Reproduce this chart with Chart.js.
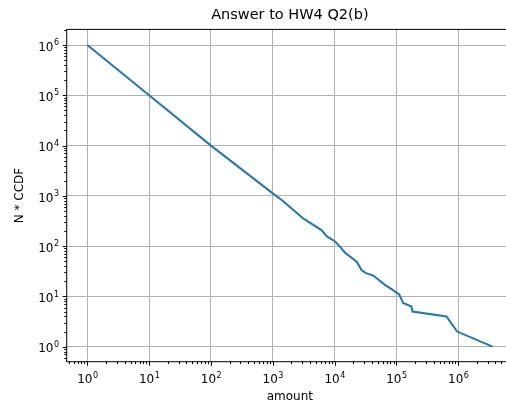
<!DOCTYPE html>
<html>
<head>
<meta charset="utf-8">
<script src="https://cdn.jsdelivr.net/npm/chart.js@4/dist/chart.umd.min.js"></script>
<style>
  html, body { margin: 0; padding: 0; background: #fff; overflow: hidden; }
  #wrap { width: 514px; height: 404px; overflow: hidden; }
</style>
</head>
<body>
<div id="wrap"><canvas id="chart" width="514" height="404"></canvas></div>
<script>
// values (log-log)
const amounts = [1, 10, 100, 1000, 1410, 2180, 3150, 6200, 7500, 10200, 12300, 14800, 22800, 27500, 32200, 42300, 65200, 83500, 111000, 128500, 175000, 182000, 646000, 960000, 3600000];
const nCcdf = [1000000, 100000, 10000, 1120, 819, 517, 352, 206, 156, 124, 97, 74, 49, 33, 29, 26, 17, 14, 11, 7.4, 6.3, 5, 4, 2, 1];

const xRange = [0.464, 7.7e6];
const yRange = [0.503, 2.05e6];

const isDecade = v => Math.abs(Math.log10(v) - Math.round(Math.log10(v))) < 1e-9;

function logTicks(scale) {
  const ticks = [];
  const lo = Math.floor(Math.log10(scale.min));
  const hi = Math.ceil(Math.log10(scale.max));
  for (let n = lo; n <= hi; n++) {
    for (let k = 1; k <= 9; k++) {
      const v = k * Math.pow(10, n);
      if (v >= scale.min && v <= scale.max) ticks.push({ value: v });
    }
  }
  scale.ticks = ticks;
}

const font = { family: 'DejaVu Sans', size: 12 };

// spines, tick marks and 10^n labels drawn matplotlib-style from the scales
const frame = {
  id: 'frame',
  afterDraw(chart) {
    const { ctx, chartArea: a, scales: { x, y } } = chart;
    ctx.save();
    ctx.strokeStyle = '#000';
    ctx.lineWidth = 1;
    ctx.beginPath();
    x.ticks.forEach(t => {
      const px = Math.round(x.getPixelForValue(t.value)) + 0.5;
      ctx.moveTo(px, a.bottom);
      ctx.lineTo(px, a.bottom + (isDecade(t.value) ? 4 : 2.4));
    });
    y.ticks.forEach(t => {
      const py = Math.round(y.getPixelForValue(t.value)) + 0.5;
      ctx.moveTo(a.left, py);
      ctx.lineTo(a.left - (isDecade(t.value) ? 4 : 2.4), py);
    });
    ctx.stroke();
    ctx.strokeRect(a.left, a.top, a.right - a.left, a.bottom - a.top);

    ctx.fillStyle = '#000';
    ctx.textBaseline = 'alphabetic';
    ctx.textAlign = 'left';
    const big = '12px "DejaVu Sans"', small = '8px "DejaVu Sans"';
    const label = (v, cx, baseY, align) => {
      const exp = String(Math.round(Math.log10(v)));
      ctx.font = big;
      const w1 = ctx.measureText('10').width;
      ctx.font = small;
      const w2 = ctx.measureText(exp).width;
      const left = align === 'center' ? cx - (w1 + w2) / 2 : cx - (w1 + w2);
      ctx.font = big;
      ctx.fillText('10', left, baseY);
      ctx.font = small;
      ctx.fillText(exp, left + w1 + 0.5, baseY - 5.6);
    };
    x.ticks.forEach(t => {
      if (isDecade(t.value)) label(t.value, x.getPixelForValue(t.value), a.bottom + 21.6, 'center');
    });
    y.ticks.forEach(t => {
      if (isDecade(t.value)) label(t.value, a.left - 8.2, y.getPixelForValue(t.value) + 5.7, 'right');
    });
    ctx.restore();
  }
};

Chart.defaults.color = '#000';
Chart.defaults.font.family = 'DejaVu Sans';

new Chart(document.getElementById('chart'), {
  type: 'line',
  data: {
    datasets: [{
      data: amounts.map((a, i) => ({ x: a, y: nCcdf[i] })),
      borderColor: '#1f77b4',
      borderWidth: 2,
      pointRadius: 0,
      tension: 0,
      fill: false
    }]
  },
  options: {
    responsive: false,
    animation: false,
    devicePixelRatio: 1,
    layout: { padding: { left: 0, right: 1, top: 0, bottom: 0 } },
    plugins: {
      legend: { display: false },
      tooltip: { enabled: false },
      title: {
        display: true,
        text: 'Answer to HW4 Q2(b)',
        fullSize: false,
        color: '#000',
        font: { family: 'DejaVu Sans', size: 14.5, weight: 'normal' },
        padding: { top: 7, bottom: 5 }
      }
    },
    scales: {
      x: {
        type: 'logarithmic',
        min: xRange[0],
        max: xRange[1],
        afterBuildTicks: logTicks,
        afterFit: s => { s.height = 42.3; },
        border: { display: false },
        grid: {
          drawTicks: false,
          lineWidth: 1,
          color: c => c.tick && isDecade(c.tick.value) ? '#b0b0b0' : 'rgba(0,0,0,0)'
        },
        ticks: { display: false, autoSkip: false },
        title: { display: true, text: 'amount', font, color: '#000', padding: { top: 0, bottom: 0 } }
      },
      y: {
        type: 'logarithmic',
        min: yRange[0],
        max: yRange[1],
        afterBuildTicks: logTicks,
        afterFit: s => { s.width = 66.7; },
        border: { display: false },
        grid: {
          drawTicks: false,
          lineWidth: 1,
          color: c => c.tick && isDecade(c.tick.value) ? '#b0b0b0' : 'rgba(0,0,0,0)'
        },
        ticks: { display: false, autoSkip: false },
        title: { display: true, text: 'N * CCDF', font, color: '#000', padding: { top: 13, bottom: 0 } }
      }
    }
  },
  plugins: [frame]
});
</script>
</body>
</html>
